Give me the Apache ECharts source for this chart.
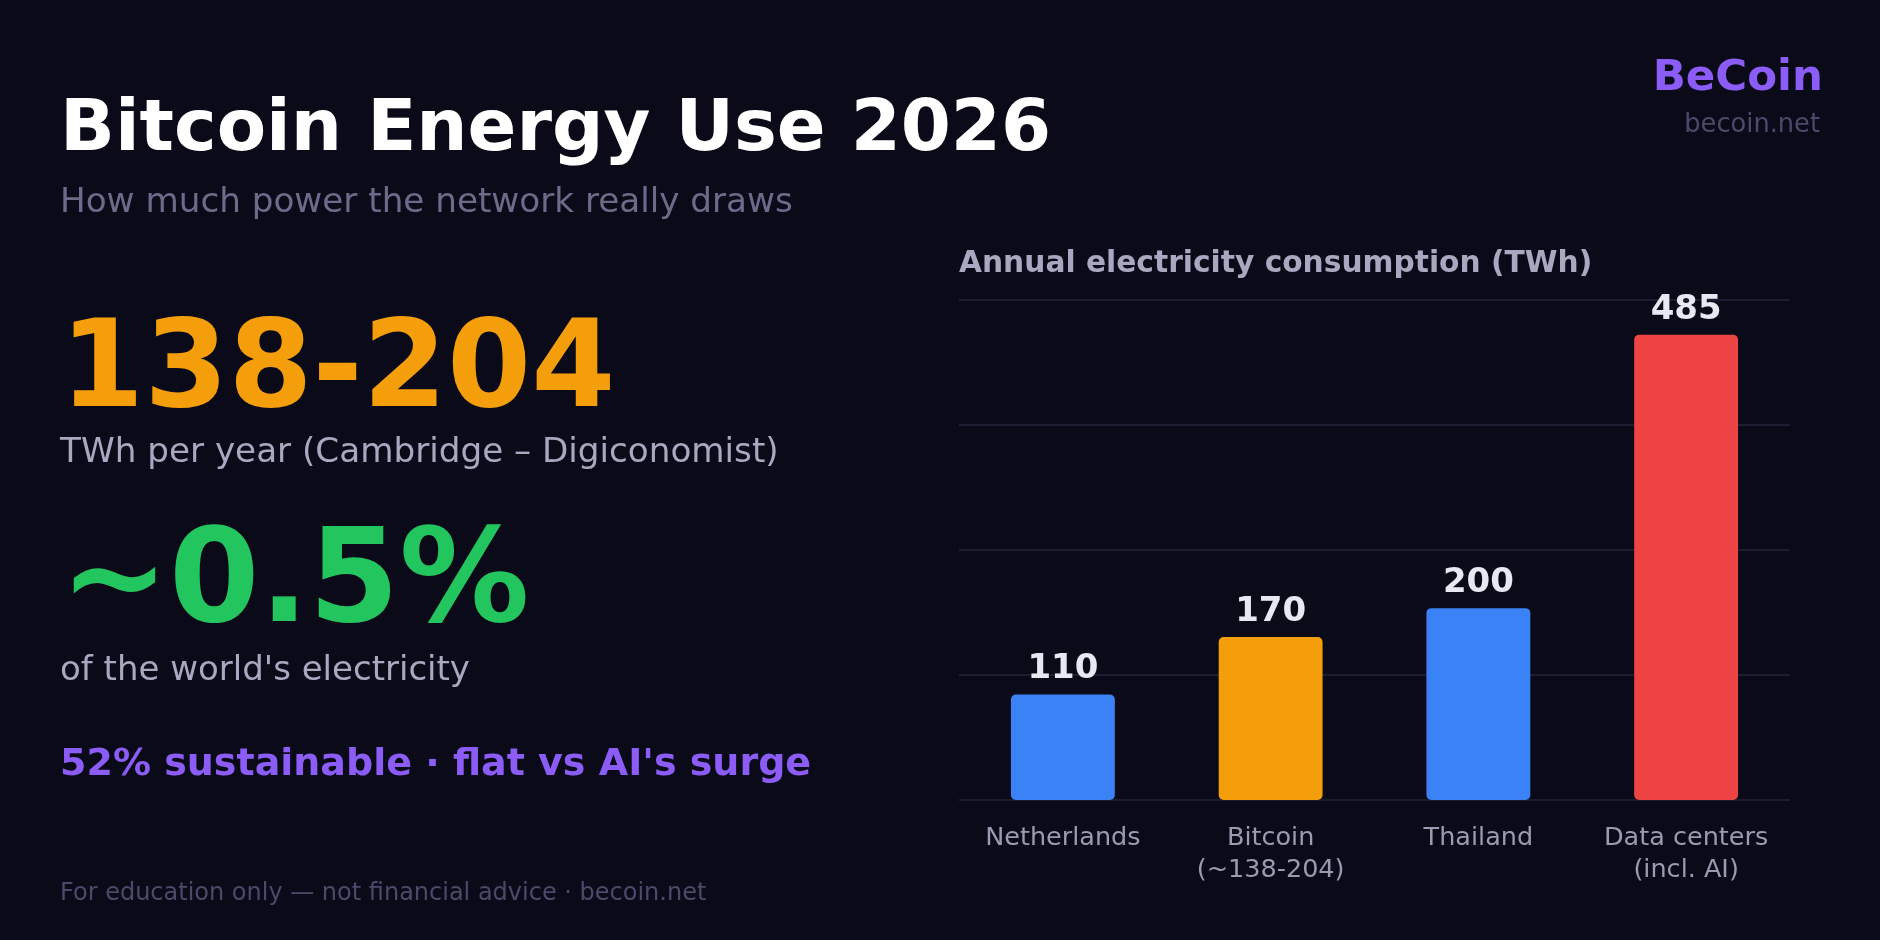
<!DOCTYPE html>
<html>
<head>
<meta charset="utf-8">
<script src="https://cdn.jsdelivr.net/npm/echarts@6/dist/echarts.min.js"></script>
<style>
html, body, #main { width: 100%; height: 100%; margin: 0; background: #0a0a18; }
</style>
</head>
<body>
<div id="main"></div>
<script>
var categories = ['Netherlands', 'Bitcoin\n(~138-204)', 'Thailand', 'Data centers\n(incl. AI)'];
var values = [110, 170, 200, 485];
var colors = ['#3b82f6', '#f59e0b', '#3b82f6', '#ef4444'];
var axisMax = 521.25;

var font = 'DejaVu Sans';
var chart = echarts.init(document.getElementById('main'));

// x, y = top-left of the text box
function txt(x, y, text, size, color, weight, align) {
    return {
        type: 'text', x: x, y: y,
        style: { text: text, fontSize: size, fill: color, fontWeight: weight || 'normal',
                 fontFamily: font, align: align || 'left', verticalAlign: 'top' }
    };
}

var option = {
    backgroundColor: '#0a0a18',
    textStyle: { fontFamily: font },
    graphic: [
        txt(60, 95, 'Bitcoin Energy Use 2026', 72, '#ffffff', 'bold'),
        txt(60, 186, 'How much power the network really draws', 34.2, '#6b6b8a'),
        txt(60, 314, '138-204', 121, '#f59e0b', 'bold'),
        txt(60, 436, 'TWh per year (Cambridge – Digiconomist)', 34.2, '#a8a8c0'),
        txt(60, 522, '~0.5%', 130, '#22c55e', 'bold'),
        txt(60, 654, "of the world's electricity", 34, '#a8a8c0'),
        txt(60, 746, "52% sustainable · flat vs AI's surge", 38, '#8b5cf6', 'bold'),
        txt(60, 882, 'For education only — not financial advice · becoin.net', 24, '#4a4a6a'),
        txt(1823, 57, 'BeCoin', 43.5, '#8b5cf6', 'bold', 'right'),
        txt(1820, 112, 'becoin.net', 25.7, '#4a4a6a', 'normal', 'right'),
        txt(959, 249, 'Annual electricity consumption (TWh)', 29.7, '#a8a8c0', 'bold')
    ],
    grid: { left: 959, right: 90, top: 300, bottom: 140 },
    xAxis: {
        type: 'category',
        data: categories,
        axisLine: { show: false },
        axisTick: { show: false },
        axisLabel: { interval: 0, color: '#9a9ab0', fontSize: 25.5, lineHeight: 32, margin: 22, fontFamily: font }
    },
    yAxis: {
        type: 'value', min: 0, max: axisMax, interval: axisMax / 4,
        axisLabel: { show: false },
        axisLine: { show: false },
        axisTick: { show: false },
        splitLine: { lineStyle: { color: '#24243a', width: 1.5 } }
    },
    series: [{
        type: 'bar',
        barWidth: '50%',
        data: values.map(function (v, i) {
            return { value: v, itemStyle: { color: colors[i], borderRadius: [5, 5, 5, 5] } };
        }),
        label: {
            show: true, position: 'top', distance: 8,
            color: '#e8e8f2', fontSize: 34, fontWeight: 'bold', fontFamily: font
        }
    }]
};
chart.setOption(option);
window.onresize = chart.resize;
</script>
</body>
</html>
